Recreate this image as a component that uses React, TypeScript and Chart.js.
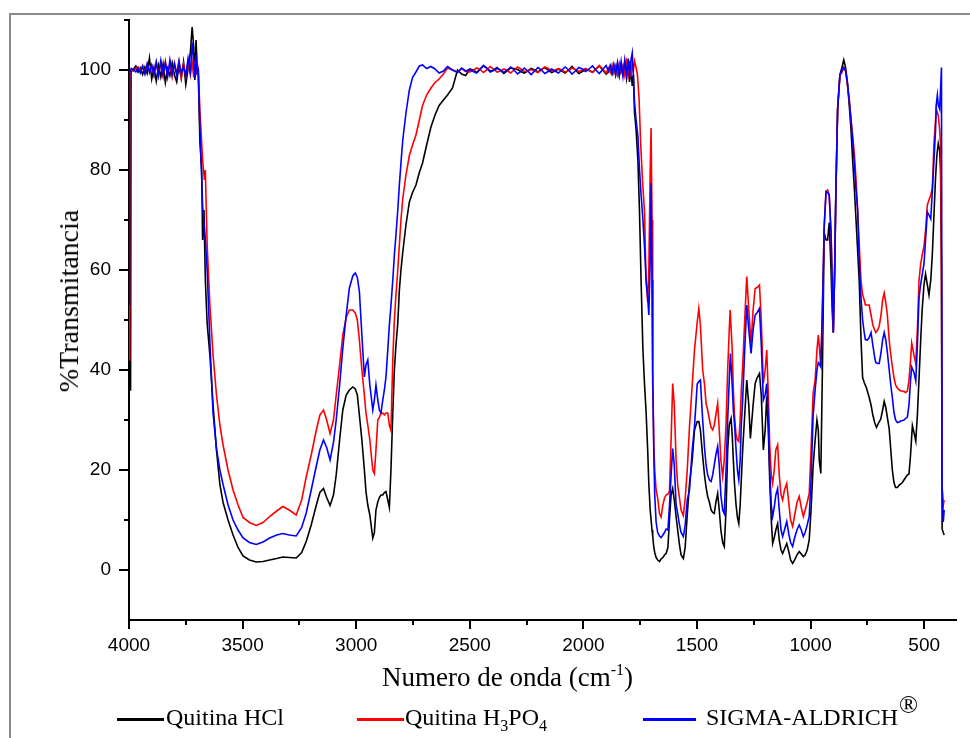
import React, { useEffect, useRef } from "react";
import { Chart, registerables } from "chart.js";

Chart.register(...registerables);

// ---- data: [wavenumber (cm-1), %Transmitancia] ----
const quitinaHCl: [number, number][] = [
  [4000,36],[3993,36],[3991,99.6],
  [3980,100.2],[3970,100.8],[3960,99.6],[3950,100.4],[3940,99.1],[3930,100.6],[3920,99.3],[3910,102.4],[3900,98.2],[3890,100.5],[3880,97.8],[3870,100.9],[3860,98.6],[3850,101.2],[3840,97.5],[3830,100.3],[3820,98.9],[3810,101.4],[3800,99.0],[3790,97.6],[3780,100.8],[3770,98.4],[3760,101.6],[3750,97.1],[3740,100.2],[3730,103.5],[3722,108.6],[3715,104.5],[3710,98.0],[3705,106],[3700,101],[3695,99],
  [3688,85.7],[3680,80],[3676,66],[3670,72],[3664,58],[3656,49.3],[3644,43],[3630,33],[3615,24],[3600,17.1],[3586,13.5],[3564,10],[3542,7],[3520,4.5],[3498,2.8],[3470,2.0],[3440,1.6],[3410,1.7],[3381,2.0],[3350,2.3],[3323,2.6],[3295,2.5],[3264,2.4],[3240,3.5],[3220,5.7],[3198,9],[3176,12.9],[3160,15.5],[3144,16.3],[3130,14.5],[3115,12.9],[3100,15],[3088,19],[3073,26],[3059,32],[3044,35],[3030,36],[3015,36.6],[3004,36.2],[2995,35],[2986,31],[2975,26],[2964,20],[2957,15.7],[2949,13],[2940,11],[2927,6.4],[2920,7.5],[2913,12],[2905,13.6],[2898,14.5],[2891,15],[2883,15],[2876,15.5],[2869,15.7],[2861,14],[2854,12.5],[2847,20],[2839,31.4],[2832,40],[2825,45],[2817,49.3],[2810,56],[2803,60],[2795,63.6],[2781,69],[2766,73.6],[2752,75.5],[2737,77],[2722,79.5],[2708,81.4],[2690,85],[2671,88.6],[2653,91],[2635,92.9],[2616,94],[2598,95],[2576,96.4],[2554,100],[2536,99.2],[2518,98.9],
  [2500,100.2],[2485,100.0],[2470,99.5],[2455,100.2],[2440,100.8],[2425,100.4],[2410,99.8],[2395,100.0],[2380,100.5],[2365,99.9],[2350,99.3],[2335,99.8],[2320,100.4],[2305,100.3],[2290,100.1],[2275,99.7],[2260,99.4],[2245,99.8],[2230,100.3],[2215,100.0],[2200,99.6],[2185,100.1],[2170,100.5],[2155,100.0],[2140,99.5],[2125,99.8],[2110,100.2],[2095,99.8],[2080,99.4],[2065,100.0],[2050,100.7],[2035,100.0],[2020,99.3],[2005,99.7],[1990,100.1],[1975,99.9],[1960,99.6],[1945,100.2],[1930,100.8],[1915,100.0],[1900,99.2],
  [1890,99.6],[1882,100.7],[1874,99.3],[1866,100.9],[1858,99.0],[1850,101.2],[1842,98.8],[1834,100.5],[1826,99.1],[1818,101.4],[1810,98.3],[1803,100.9],[1797,97.6],[1791,100.2],[1785,96.8],[1780,99],
  [1775,91.5],[1768,88],[1760,81.9],[1753,71.6],[1746,57.8],[1738,44],[1731,37.2],[1724,31.6],[1717,24],[1712,17.2],[1706,12],[1702,10],[1698,8],[1695,6.8],[1690,4.5],[1686,3.5],[1680,2.5],[1673,2.0],[1665,1.7],[1658,2.2],[1650,2.5],[1643,3.0],[1636,3.3],[1628,4.5],[1621,10.2],[1614,15],[1607,16.3],[1600,14],[1592,10.7],[1585,8],[1577,5],[1570,3],[1560,2.3],[1552,4.5],[1543,11],[1533,17.3],[1521,22],[1511,28],[1499,29.7],[1492,29.7],[1485,28],[1475,22.7],[1467,19],[1460,16.5],[1453,14.7],[1445,13.5],[1438,12],[1431,11.5],[1424,11.3],[1417,13.5],[1409,15.3],[1402,12],[1395,8],[1387,5.5],[1380,4.7],[1372,12],[1365,24],[1358,29],[1350,30.3],[1345,27],[1340,22],[1335,17.3],[1328,13],[1322,10.5],[1316,9.3],[1310,13],[1305,18],[1299,24],[1290,31],[1281,38],[1272,33],[1265,26.3],[1253,33],[1244,37.3],[1235,38.5],[1225,39.3],[1217,35],[1208,24],[1200,28],[1193,34.7],[1186,28],[1180,18],[1173,10],[1167,5.3],[1160,6.5],[1153,8],[1145,9.3],[1138,6],[1130,4],[1123,3.3],[1115,4.2],[1105,5.3],[1095,3.5],[1088,2],[1079,1.3],[1070,2.0],[1060,3.0],[1050,3.7],[1041,3.2],[1032,2.7],[1024,3.0],[1015,4],[1006,6],[998,12],[989,20.7],[980,26],[972,30],[966,28],[962,22],[955,19.3],[948,40],[940,67.4],[932,66],[925,66],[918,69.5],[910,60],[905,52],[900,47.5],[894,60],[889,75],[881,92.2],[871,99],[862,100.5],[854,102],[846,100.5],[838,97.5],[830,93],[822,88],[815,82],[807,76],[800,70],[793,64],[786,57.8],[778,46],[771,38.5],[764,37.5],[754,36.4],[742,34.5],[734,33],[726,31],[718,29.5],[710,28.5],[700,29.5],[691,30.2],[683,32],[676,33.7],[669,32.5],[662,30.5],[654,28.2],[647,24],[640,19.9],[633,17.5],[626,16.5],[618,16.5],[610,17],[604,17.2],[596,17.5],[589,18],[582,18.5],[574,19],[567,19.2],[560,23],[552,28.9],[545,27.5],[537,25.8],[530,31],[523,38],[516,45.4],[509,52],[501,57],[494,59.2],[486,57],[479,55],[471,58],[464,63.3],[457,71],[450,78.5],[444,83],[438,85.3],[432,84],[428,79.8],[424,60],[421,8.2],[416,7.5],[412,7],
];

const quitinaH3PO4: [number, number][] = [
  [4000,42],[3997,99.5],[3990,100.3],
  [3980,99.8],[3970,100.3],[3960,100.6],[3950,99.7],[3940,100.9],[3930,99.4],[3920,101.1],[3910,99.8],[3900,100.9],[3890,98.9],[3880,101.5],[3870,99.2],[3860,101.3],[3850,98.7],[3840,101.7],[3830,99.0],[3820,101.2],[3810,98.6],[3800,101.4],[3790,99.3],[3780,101.8],[3770,98.4],[3760,101.2],[3750,98.7],[3740,101.6],[3730,99.0],[3722,101.5],[3715,98.5],[3710,102],[3705,99],[3700,101.5],[3695,100],
  [3688,92],[3676,82],[3668,78],[3664,80],[3656,65],[3644,53],[3630,43],[3615,35],[3600,29],[3586,25],[3564,20],[3542,16],[3520,13],[3498,10.5],[3470,9.5],[3440,8.9],[3410,9.5],[3381,10.7],[3350,11.8],[3323,12.7],[3295,12],[3264,11],[3240,14],[3220,18.6],[3198,23],[3176,27.9],[3160,31],[3144,32],[3130,30],[3115,27.3],[3100,30],[3088,35],[3073,41],[3059,47],[3044,50.5],[3030,52],[3015,52],[3004,51.4],[2995,50],[2986,46],[2975,40],[2964,35],[2957,31.4],[2949,29],[2940,26],[2927,20],[2920,19.3],[2913,24],[2905,30],[2898,30.5],[2891,31.4],[2883,31.4],[2876,31],[2869,31.4],[2861,31.4],[2854,29],[2847,27.9],[2839,42],[2832,50],[2825,55],[2817,60],[2810,65],[2803,70],[2795,74.3],[2781,79],[2766,82.9],[2752,85],[2737,87],[2722,90],[2708,92.9],[2690,95],[2671,96.4],[2653,97.5],[2635,98.2],[2616,99.2],[2598,100.4],[2576,100],[2554,99.6],[2536,100.3],[2518,99.7],
  [2500,99.6],[2485,99.9],[2470,100.4],[2455,100.1],[2440,99.5],[2425,100.0],[2410,100.7],[2395,100.2],[2380,99.6],[2365,99.8],[2350,100.2],[2335,99.9],[2320,99.4],[2305,100.0],[2290,100.6],[2275,100.2],[2260,99.7],[2245,99.8],[2230,100.1],[2215,99.8],[2200,99.5],[2185,100.0],[2170,100.6],[2155,100.3],[2140,99.8],[2125,100.0],[2110,100.3],[2095,100.0],[2080,99.6],[2065,99.9],[2050,100.4],[2035,100.1],[2020,99.7],[2005,100.0],[1990,100.3],[1975,99.9],[1960,99.5],[1945,100.2],[1930,100.9],[1915,100.2],[1900,99.4],
  [1890,100.4],[1882,99.5],[1874,101.0],[1866,99.4],[1858,100.8],[1850,99.1],[1842,101.3],[1834,99.6],[1826,100.9],[1818,98.9],[1810,101.6],[1803,99.2],[1797,101.8],[1791,98.6],[1785,101.5],[1780,99.8],[1775,101.8],[1768,100.5],[1762,99],
  [1755,94.3],[1748,85.4],[1740,78],[1731,71.6],[1724,57.8],[1717,53.7],[1712,60],[1706,80],[1702,88.4],[1698,70],[1695,37.2],[1690,25],[1686,19.9],[1680,16],[1673,14.4],[1665,11.3],[1658,10.6],[1650,13],[1643,14.4],[1636,15],[1628,15.2],[1621,15.8],[1614,26],[1607,37.3],[1600,33],[1592,22],[1585,17],[1577,14.4],[1570,12],[1560,10.9],[1552,14.3],[1543,19.9],[1533,28.7],[1521,37],[1511,44],[1499,49.6],[1492,52.3],[1485,49],[1475,40],[1467,37.2],[1460,33.3],[1453,32],[1445,30],[1438,28.5],[1431,28],[1424,29],[1417,31],[1409,33.3],[1402,28],[1395,22],[1387,18.7],[1380,22],[1372,29.3],[1365,40],[1358,48],[1354,52],[1345,44],[1340,36],[1335,31],[1328,27],[1322,26],[1316,25.7],[1310,30],[1305,36],[1299,40.7],[1290,50],[1281,58.7],[1272,52],[1262,45.3],[1253,52],[1244,56.3],[1235,56.5],[1225,57],[1217,50],[1208,37.3],[1200,40],[1193,44],[1186,35],[1180,25],[1173,19],[1167,17.3],[1160,20],[1153,24],[1145,25],[1138,19],[1130,15],[1123,14],[1115,16],[1105,17.3],[1095,13],[1088,10],[1079,8.7],[1070,11],[1060,13.5],[1050,14.7],[1041,12.5],[1032,10.7],[1024,12],[1015,13.5],[1006,15.3],[998,24],[989,35.3],[980,38],[972,44],[966,47],[962,45],[955,40.6],[948,52],[940,68.8],[932,75.7],[925,76],[918,75],[910,67.4],[905,58],[900,47.5],[894,60],[889,75],[881,92.2],[871,99],[862,99.5],[854,100.5],[846,99.8],[838,97],[830,94],[822,90],[815,87],[807,83],[800,78],[793,72],[786,65],[778,57.8],[771,55],[764,54],[759,53],[750,53],[742,53],[734,51],[726,49],[718,48],[713,47.5],[705,48],[698,48.8],[690,51],[683,54],[676,55.4],[669,53.5],[662,50.9],[654,46],[647,43],[640,40.6],[633,38.5],[626,37],[618,36.4],[610,36],[604,35.8],[596,35.8],[589,35.7],[582,35.5],[574,35.8],[567,38],[560,42],[555,45.4],[545,43],[537,41.3],[530,48],[523,57.8],[516,61],[509,63],[501,64.7],[494,68],[486,73],[479,74],[471,75],[464,76.4],[457,85.3],[450,90],[447,92.2],[438,90.9],[432,88],[428,85.3],[424,60],[421,16.5],[416,13],[412,14],
];

const sigmaAldrich: [number, number][] = [
  [4000,53],[3998,99.6],[3990,100.2],
  [3980,100.1],[3970,99.6],[3960,100.4],[3950,99.4],[3940,100.7],[3930,99.2],[3920,101.3],[3910,99.5],[3900,101.0],[3890,99.0],[3880,101.6],[3870,98.8],[3860,101.9],[3850,99.1],[3840,101.4],[3830,98.6],[3820,102.0],[3810,99.2],[3800,101.2],[3790,98.9],[3780,101.7],[3770,99.4],[3760,100.6],[3750,98.8],[3740,102.3],[3730,99.6],[3722,105.5],[3715,101.5],[3710,98.5],[3705,103],[3700,99.5],[3695,100],
  [3688,88.6],[3676,72.9],[3664,66],[3656,60],[3644,45.7],[3630,31.4],[3615,24.3],[3600,20],[3586,17.1],[3564,13],[3542,10],[3520,8],[3498,6.4],[3470,5.5],[3440,5.1],[3410,5.6],[3381,6.4],[3350,7],[3323,7.3],[3295,7.0],[3264,6.8],[3240,8.5],[3220,11.4],[3198,16],[3176,20.7],[3160,24],[3144,26],[3130,24.5],[3115,22],[3100,25.5],[3088,30],[3073,37],[3059,44.3],[3044,51],[3030,56.4],[3015,58.8],[3004,59.4],[2995,58.5],[2986,55.7],[2975,47],[2964,38.6],[2957,41],[2949,42],[2940,37],[2927,32],[2920,34],[2913,37],[2905,34],[2898,32],[2891,31.4],[2883,34],[2876,36],[2869,38.6],[2861,44],[2854,49],[2847,52.9],[2839,58],[2832,63],[2825,67],[2817,72],[2810,77],[2803,81.4],[2795,86],[2781,91.4],[2766,96],[2752,98.5],[2737,99.6],[2722,100.8],[2708,101],[2690,100.3],[2671,100.7],[2653,100.2],[2635,99.4],[2616,99.8],[2598,100.7],[2576,100],[2554,99.5],[2536,100.4],[2518,99.8],
  [2500,100.1],[2485,99.7],[2470,99.4],[2455,100.1],[2440,100.9],[2425,100.3],[2410,99.6],[2395,99.9],[2380,100.3],[2365,100.0],[2350,99.5],[2335,100.0],[2320,100.6],[2305,100.0],[2290,99.2],[2275,99.7],[2260,100.4],[2245,99.8],[2230,99.1],[2215,99.8],[2200,100.5],[2185,100.0],[2170,99.3],[2155,99.7],[2140,100.2],[2125,99.8],[2110,99.4],[2095,100.0],[2080,100.6],[2065,100.0],[2050,99.2],[2035,99.8],[2020,100.5],[2005,100.2],[1990,99.7],[1975,100.2],[1960,100.8],[1945,100.0],[1930,99.3],[1915,100.1],[1900,100.9],
  [1890,99.8],[1882,100.9],[1874,99.4],[1866,101.1],[1858,99.2],[1850,101.5],[1842,99.0],[1834,101.7],[1826,98.8],[1818,102.0],[1810,99.1],[1803,102.3],[1797,98.7],[1791,101.9],[1785,103.4],[1780,99],
  [1775,93.6],[1768,90],[1760,86.7],[1753,80],[1746,75],[1738,70],[1731,64.7],[1724,58],[1717,54.4],[1712,51],[1706,62],[1702,77.4],[1698,58],[1695,40],[1690,23.3],[1686,15],[1680,9.6],[1673,7.5],[1665,6.8],[1658,6.5],[1650,7],[1643,7.5],[1636,8.2],[1628,8],[1621,13],[1614,19],[1607,24.3],[1600,21],[1592,13],[1585,11.3],[1577,9],[1570,7.5],[1560,6.7],[1552,9],[1543,14],[1533,16],[1521,24],[1511,28.7],[1499,37.2],[1492,37.7],[1485,38],[1475,30],[1467,24.5],[1460,21],[1453,19],[1445,18],[1438,17.7],[1431,19],[1424,21],[1417,23],[1409,24.7],[1402,21],[1395,15],[1387,12],[1380,11.3],[1372,20],[1365,30],[1358,38],[1353,43.3],[1345,37],[1340,32],[1335,29.3],[1328,24],[1322,20],[1316,18],[1310,22],[1305,29],[1299,34],[1290,44],[1281,53],[1272,48],[1262,43.3],[1253,48],[1244,51],[1235,51.5],[1225,52.3],[1217,45],[1208,34],[1200,35],[1193,37.3],[1186,30],[1180,20],[1173,13],[1167,10.7],[1160,12.5],[1153,15],[1145,16.3],[1138,12],[1130,8],[1123,6.7],[1115,8],[1105,9.7],[1095,7],[1088,5.5],[1079,4.7],[1070,6.5],[1060,8],[1050,9],[1041,8],[1032,6.7],[1024,7.5],[1015,9],[1006,10.7],[998,18],[989,30.7],[980,36],[972,40],[966,41.5],[962,41.3],[955,40.6],[948,52],[940,68.8],[932,75.7],[925,75.5],[918,75],[910,67.4],[905,58],[900,47.5],[894,60],[889,75],[881,92.2],[871,99],[862,100],[854,100.5],[846,99.8],[838,97.5],[830,94],[822,90],[815,86],[807,81],[800,76],[793,72],[786,62],[778,54.3],[771,50],[764,47.5],[759,46.1],[750,46],[742,46.5],[734,47.5],[726,45],[718,42.5],[713,41.5],[705,41.3],[698,41.3],[690,43.5],[683,46],[676,47.5],[669,46],[662,43.5],[654,40],[647,37],[640,34.4],[633,31.5],[626,30],[618,29.5],[610,29.6],[604,29.8],[596,29.9],[589,30],[582,30.3],[574,30.6],[567,33],[560,38],[555,40.6],[545,39.5],[537,37.8],[530,45],[523,54.3],[516,57],[509,59],[501,61.2],[494,66],[486,71.6],[479,71],[471,70.2],[464,76],[457,81.9],[450,88],[447,93],[442,95],[438,93],[432,92.2],[428,96],[424,100.5],[421,16.5],[416,9.6],[412,12],
];

const seriesColors = ["#000000", "#ff0000", "#0000ff"];
const xMajorTicks = [4000, 3500, 3000, 2500, 2000, 1500, 1000, 500];
const xMinorTicks = [3750, 3250, 2750, 2250, 1750, 1250, 750];
const yMajorTicks = [0, 20, 40, 60, 80, 100];
const yMinorTicks = [10, 30, 50, 70, 90, 110];
const X_MIN = 360;
const X_MAX = 4000;
const Y_MIN = -10;
const Y_MAX = 110;

const serif = '"Liberation Serif", "Times New Roman", serif';
const sans = '"Liberation Sans", Arial, sans-serif';

const minorTicksPlugin = {
  id: "minorTicks",
  afterDraw(chart: any) {
    const { ctx, chartArea, scales } = chart;
    ctx.save();
    ctx.strokeStyle = "#000";
    ctx.lineWidth = 2;
    xMinorTicks.forEach((v) => {
      const x = Math.round(scales.x.getPixelForValue(v));
      ctx.beginPath();
      ctx.moveTo(x, chartArea.bottom);
      ctx.lineTo(x, chartArea.bottom + 5);
      ctx.stroke();
    });
    yMinorTicks.forEach((v) => {
      const y = Math.round(scales.y.getPixelForValue(v));
      ctx.beginPath();
      ctx.moveTo(chartArea.left - 5, y);
      ctx.lineTo(chartArea.left, y);
      ctx.stroke();
    });
    ctx.restore();
  },
};

function SpectrumChart() {
  const ref = useRef<HTMLCanvasElement | null>(null);
  useEffect(() => {
    if (!ref.current) return;
    const toPts = (arr: [number, number][]) => arr.map(([x, y]) => ({ x, y }));
    const chart = new Chart(ref.current, {
      type: "line",
      data: {
        datasets: [
          { label: "Quitina HCl", data: toPts(quitinaHCl), borderColor: seriesColors[0], order: 3 },
          { label: "Quitina H3PO4", data: toPts(quitinaH3PO4), borderColor: seriesColors[1], order: 2 },
          { label: "SIGMA-ALDRICH", data: toPts(sigmaAldrich), borderColor: seriesColors[2], order: 1 },
        ].map((d) => ({ ...d, borderWidth: 1.6, pointRadius: 0, fill: false, tension: 0 })),
      },
      options: {
        animation: false,
        responsive: false,
        devicePixelRatio: 1,
        layout: { padding: { left: 0, right: 14, top: 20, bottom: 0 } },
        plugins: { legend: { display: false }, tooltip: { enabled: false } },
        scales: {
          x: {
            type: "linear",
            reverse: true,
            min: X_MIN,
            max: X_MAX,
            afterBuildTicks: (s: any) => {
              s.ticks = xMajorTicks.map((v) => ({ value: v }));
            },
            afterFit: (s: any) => {
              s.height = 118;
            },
            ticks: {
              font: { family: sans, size: 19 },
              color: "#000",
              padding: 5,
              maxRotation: 0,
              autoSkip: false,
              callback: (v: any) => String(v),
            },
            grid: { drawOnChartArea: false, drawTicks: true, tickLength: 9, tickWidth: 2, color: "#000", lineWidth: 2 },
            border: { display: true, color: "#000", width: 2 },
          },
          y: {
            type: "linear",
            min: Y_MIN,
            max: Y_MAX,
            afterBuildTicks: (s: any) => {
              s.ticks = yMajorTicks.map((v) => ({ value: v }));
            },
            afterFit: (s: any) => {
              s.width = 129;
            },
            ticks: {
              font: { family: sans, size: 19 },
              color: "#000",
              padding: 8,
              autoSkip: false,
              callback: (v: any) => String(v),
            },
            grid: { drawOnChartArea: false, drawTicks: true, tickLength: 10, tickWidth: 2, color: "#000", lineWidth: 2 },
            border: { display: true, color: "#000", width: 2 },
          },
        },
      } as any,
      plugins: [minorTicksPlugin],
    });
    return () => chart.destroy();
  }, []);
  return <canvas ref={ref} width={970} height={738} style={{ position: "absolute", left: 0, top: 0, display: "block" }} />;
}

const legendText: React.CSSProperties = {
  position: "absolute",
  top: 705,
  height: 24,
  fontFamily: serif,
  fontSize: 24,
  lineHeight: "24px",
  color: "#000",
  whiteSpace: "nowrap",
};

const subStyle: React.CSSProperties = { fontSize: 16, position: "relative", top: 6, verticalAlign: "baseline", lineHeight: 0 };
const supStyle: React.CSSProperties = { fontSize: 25, position: "relative", top: -12, marginLeft: 1, verticalAlign: "baseline", lineHeight: 0 };

export default function App() {
  return (
    <div style={{ position: "absolute", left: 0, top: 0, width: 970, height: 738, background: "#fff", overflow: "hidden" }}>
      <div style={{ position: "absolute", left: 9, top: 13, width: 980, height: 740, borderLeft: "2px solid #8c8c8c", borderTop: "2px solid #8c8c8c" }} />
      <SpectrumChart />
      <div
        style={{
          position: "absolute",
          left: 69,
          top: 301,
          transform: "translate(-50%, -50%) rotate(-90deg)",
          fontFamily: serif,
          fontSize: 28,
          lineHeight: "28px",
          whiteSpace: "nowrap",
          color: "#000",
        }}
      >
        %Transmitancia
      </div>
      <div style={{ position: "absolute", left: 382, top: 664, height: 27, fontFamily: serif, fontSize: 27, lineHeight: "27px", whiteSpace: "nowrap", color: "#000" }}>
        Numero de onda (cm<span style={{ fontSize: 16, position: "relative", top: -11, lineHeight: 0 }}>-1</span>)
      </div>
      <div style={{ position: "absolute", left: 117, top: 718, width: 47, height: 3, background: seriesColors[0] }} />
      <div style={{ ...legendText, left: 166 }}>Quitina HCl</div>
      <div style={{ position: "absolute", left: 357, top: 718, width: 47, height: 3, background: seriesColors[1] }} />
      <div style={{ ...legendText, left: 405 }}>
        Quitina H<span style={subStyle}>3</span>PO<span style={subStyle}>4</span>
      </div>
      <div style={{ position: "absolute", left: 643, top: 718, width: 53, height: 3, background: seriesColors[2] }} />
      <div style={{ ...legendText, left: 706 }}>
        SIGMA-ALDRICH<span style={supStyle}>®</span>
      </div>
    </div>
  );
}
